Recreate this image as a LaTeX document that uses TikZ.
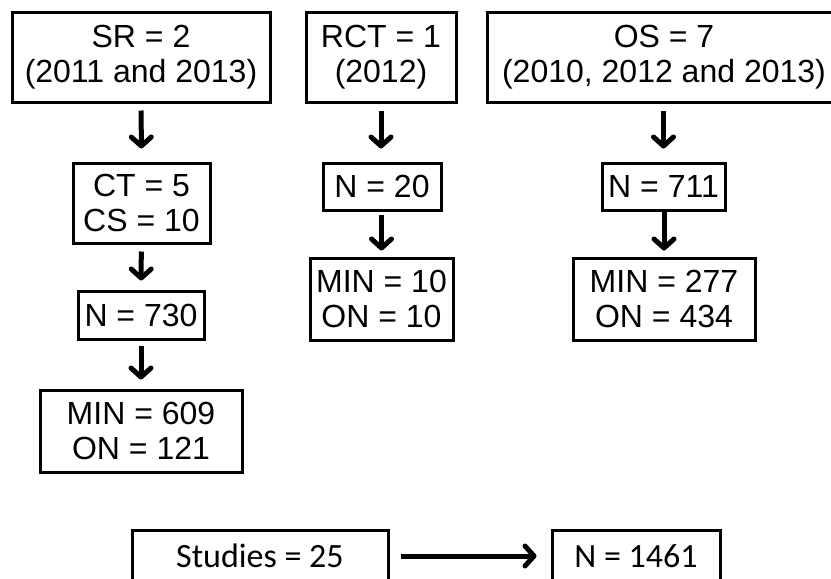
\documentclass[tikz,border=0pt]{standalone}
\usepackage{fontspec}
\setmainfont{Liberation Sans}
\newfontfamily\calib{Carlito}
\usetikzlibrary{arrows.meta}
\begin{document}
\begin{tikzpicture}[x=1pt,y=-1pt,
  box/.style={draw=black,line width=3pt,align=center,inner sep=0pt,
    font=\fontsize{32}{35}\selectfont},
  bbox/.style={draw=black,line width=3pt,align=center,inner sep=0pt,
    font=\calib\fontsize{34}{40}\selectfont},
  arr/.style={line width=5pt,-{Straight Barb[length=9pt,width=20pt,line width=5pt,round]},
    shorten <=7pt, shorten >=9pt}
]
\useasboundingbox (0,0) rectangle (831,579);
\clip (0,0) rectangle (831,579);
\node[box,minimum width=258pt,minimum height=90pt] (sr) at (141,57) {SR = 2\\(2011 and 2013)};
\node[box,minimum width=150pt,minimum height=90pt] (rct) at (381,57) {RCT = 1\\(2012)};
\node[box,minimum width=349pt,minimum height=90pt] (os) at (661.5,57) {\hspace*{5pt}OS = 7\\\hspace*{5pt}(2010, 2012 and 2013)};
\node[box,minimum width=137pt,minimum height=80pt] (ct) at (141.5,203) {CT = 5\\CS = 10};
\node[box,minimum width=126pt,minimum height=48pt] (n730) at (141,315) {N = 730};
\node[box,minimum width=202pt,minimum height=82pt] (min609) at (141,431) {MIN = 609\\ON = 121};
\node[box,minimum width=118pt,minimum height=47pt] (n20) at (382,186.5) {N = 20};
\node[box,minimum width=143pt,minimum height=82pt] (min10) at (381.5,299) {MIN = 10\\ON = 10};
\node[box,minimum width=123pt,minimum height=47pt] (n711) at (663.5,186.5) {N = 711};
\node[box,minimum width=182pt,minimum height=82pt] (min277) at (664,299) {MIN = 277\\ON = 434};
\node[bbox,minimum width=256pt,minimum height=52pt] (st) at (260,556) {Studies = 25};
\node[bbox,minimum width=168pt,minimum height=52pt] (n1461) at (636,556) {N = 1461};
\draw[arr,shorten >=13pt] (sr) -- (ct);
\draw[arr,shorten >=13pt] (rct.south) -- (rct.south |- n20.north);
\draw[arr,shorten >=13pt] (os.south -| n711.north) -- (n711.north);
\draw[arr] (ct) -- (n730);
\draw[arr,shorten <=5pt] (n730) -- (min609);
\draw[arr,shorten <=3pt,shorten >=6pt] (n20.south -| min10.north) -- (min10.north);
\draw[arr,shorten <=3pt,shorten >=6pt] (n711.south) -- (n711.south -| min277.north) -- (min277.north);
\draw[arr,shorten <=11pt,shorten >=14pt] (st) -- (n1461);
\end{tikzpicture}
\end{document}
